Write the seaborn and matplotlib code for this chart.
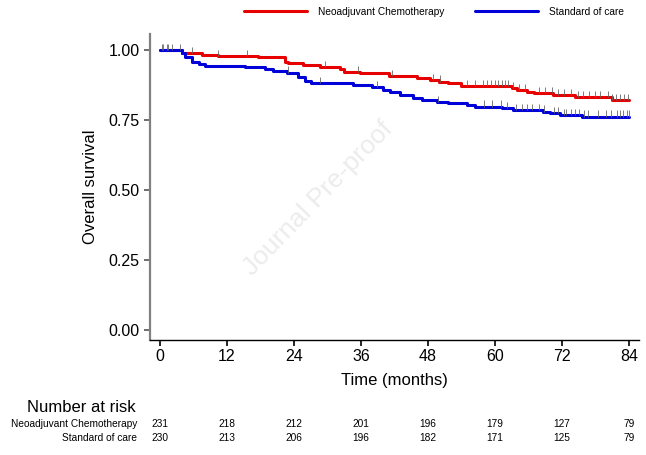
import numpy as np
import pandas as pd
import matplotlib
matplotlib.use("Agg")
import matplotlib.pyplot as plt
import matplotlib.transforms as mtransforms
import seaborn as sns

# Kaplan-Meier step curves (time in months, survival after drop)
GROUPS = ["Neoadjuvant Chemotherapy", "Standard of care"]
COLORS = {"Neoadjuvant Chemotherapy": "#e60000", "Standard of care": "#0000d9"}

neo_time = [0, 4, 7.5, 10.4, 17.5, 22.4, 23, 25.6, 28.7, 32.2, 33, 35.8, 41, 46,
            48.4, 50, 51.6, 54, 63, 64, 65.7, 67, 70.4, 74.3, 81, 84]
neo_surv = [1.0, 0.99, 0.983, 0.979, 0.975, 0.958, 0.952, 0.946, 0.938, 0.931, 0.922,
            0.917, 0.906, 0.899, 0.893, 0.887, 0.881, 0.872, 0.863, 0.857, 0.849,
            0.845, 0.839, 0.831, 0.821, 0.821]

soc_time = [0, 3.9, 4.5, 5.7, 7, 8, 15.2, 18.8, 20.3, 22.7, 24.8, 26, 27, 34.6, 38,
            40, 41.2, 43, 45.3, 47, 49.6, 51.6, 55, 56.4, 61.3, 63.2, 68.6, 69.8,
            71.6, 75.6, 84]
soc_surv = [1.0, 0.99, 0.975, 0.958, 0.95, 0.944, 0.938, 0.931, 0.925, 0.919, 0.905,
            0.89, 0.883, 0.875, 0.867, 0.857, 0.851, 0.84, 0.827, 0.821, 0.815, 0.81,
            0.804, 0.798, 0.792, 0.786, 0.78, 0.774, 0.768, 0.762, 0.762]

# censoring times (tick marks)
neo_censor = [0.3, 0.6, 1.2, 2.2, 3.6, 5.7, 10.4, 15.6, 29.6, 35.5, 41.6, 48.9, 50.2,
              55, 56.5, 57.8, 58.6, 59.2, 60, 60.6, 61.2, 61.8, 62.4, 63.2, 64.3,
              65.4, 67.8, 69, 70.2, 71.3, 72.4, 73.6, 74.8, 75.7, 76.8, 78, 78.9,
              80.2, 81, 81.7, 82.4, 83.1, 83.8]
soc_censor = [1.5, 23, 28.7, 38.9, 49.8, 58, 59.5, 61, 62.2, 63.8, 64.8, 65.8, 66.7,
              67.8, 68.8, 70.5, 71.2, 72.3, 72.8, 73.6, 74.3, 75, 76, 76.7, 78.5,
              79.8, 80.8, 81.8, 82.4, 83, 83.6, 84]

risk_times = [0, 12, 24, 36, 48, 60, 72, 84]
neo_risk = [231, 218, 212, 201, 196, 179, 127, 79]
soc_risk = [230, 213, 206, 196, 182, 171, 125, 79]


def surv_at(times, survs, t):
    idx = np.searchsorted(times, t, side="right") - 1
    return np.asarray(survs)[idx]


def main():
    sns.set_theme(style="white")
    plt.rcParams["font.family"] = ["Liberation Sans", "DejaVu Sans"]
    plt.rcParams["text.color"] = "black"
    plt.rcParams["axes.labelcolor"] = "black"
    plt.rcParams["xtick.labelcolor"] = "black"
    plt.rcParams["ytick.labelcolor"] = "black"

    df = pd.concat([
        pd.DataFrame({"time": neo_time, "surv": neo_surv, "group": GROUPS[0]}),
        pd.DataFrame({"time": soc_time, "surv": soc_surv, "group": GROUPS[1]}),
    ], ignore_index=True)

    fig = plt.figure(figsize=(6.46, 4.55), dpi=100)
    ax = fig.add_axes([150 / 646, 1 - 340 / 455, 489 / 646, 306 / 455])

    # watermark
    fig.text(318 / 646, 1 - 198 / 455, "Journal Pre-proof", rotation=46,
             fontsize=19, color="#ececec", ha="center", va="center", zorder=0)

    sns.lineplot(data=df, x="time", y="surv", hue="group", hue_order=GROUPS,
                 palette=COLORS, drawstyle="steps-post", estimator=None,
                 lw=2.2, ax=ax, zorder=3)

    for times, survs, cens in [(neo_time, neo_surv, neo_censor),
                               (soc_time, soc_surv, soc_censor)]:
        s = surv_at(times, survs, cens)
        ax.vlines(cens, s, s + 0.022, color="#666666", lw=0.6, zorder=4)

    ax.set_xlim(-1.8, 85.8)
    ax.set_ylim(-0.036, 1.057)
    ax.set_xticks(risk_times)
    ax.set_yticks([0, 0.25, 0.5, 0.75, 1.0])
    ax.set_yticklabels(["0.00", "0.25", "0.50", "0.75", "1.00"])
    ax.set_xlabel("Time (months)", fontsize=12, labelpad=7)
    ax.set_ylabel("Overall survival", fontsize=12, labelpad=8)

    for side in ["top", "right"]:
        ax.spines[side].set_visible(False)
    ax.spines["left"].set_color("#808080")
    ax.spines["left"].set_linewidth(1.6)
    ax.spines["bottom"].set_color("black")
    ax.spines["bottom"].set_linewidth(1.0)
    ax.tick_params(axis="y", direction="out", length=4.3, width=1.2, color="#555555",
                   labelsize=11.5, pad=3, left=True)
    ax.tick_params(axis="x", direction="out", length=4.3, width=1.2, color="black",
                   labelsize=11.5, pad=2, bottom=True)

    handles, labels = ax.get_legend_handles_labels()
    ax.get_legend().remove()
    fig.legend(handles, labels, loc="center", bbox_to_anchor=(434 / 646, 1 - 12 / 455),
               ncol=2, frameon=False, fontsize=7.3, handlelength=6.2,
               handletextpad=1.1, columnspacing=3.0, borderpad=0)

    # number at risk table
    trans = mtransforms.blended_transform_factory(ax.transData, fig.transFigure)
    fig.text(27 / 646, 1 - 408 / 455, "Number at risk", fontsize=12, va="center")
    for row_y, name, vals in [(424, GROUPS[0], neo_risk), (438, GROUPS[1], soc_risk)]:
        fig.text(137 / 646, 1 - row_y / 455, name, fontsize=7.3, ha="right", va="center")
        for t, v in zip(risk_times, vals):
            ax.text(t, 1 - row_y / 455, str(v), transform=trans, fontsize=7.3,
                    ha="center", va="center")

    fig.savefig("out.png", dpi=100)
    plt.close(fig)


if __name__ == "__main__":
    main()
